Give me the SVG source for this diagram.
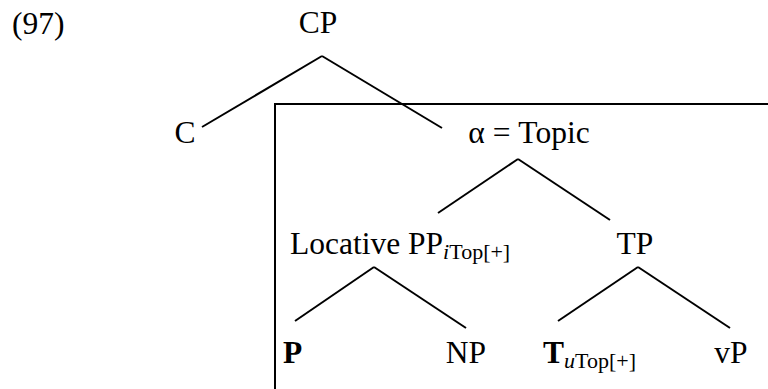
<svg xmlns="http://www.w3.org/2000/svg" width="768" height="389" viewBox="0 0 768 389">
<style>
text{font-family:"Liberation Serif","Times New Roman",serif;font-size:31.5px;fill:#000}
.sub{font-size:22px}
.b{font-weight:bold}
.i{font-style:italic}
line,path{stroke:#000;stroke-width:2;fill:none}
</style>
<rect width="768" height="389" fill="#fff"/>
<text x="12" y="34">(97)</text>
<g id="box"><path d="M775 104H275V395"/></g>
<g id="connectors">
<line x1="322" y1="56" x2="202" y2="127"/>
<line x1="322" y1="56" x2="442" y2="128"/>
<line x1="518" y1="159" x2="438" y2="213"/>
<line x1="518" y1="159" x2="610" y2="220"/>
<line x1="374" y1="267" x2="295" y2="321"/>
<line x1="374" y1="267" x2="466" y2="328"/>
<line x1="638" y1="267" x2="558" y2="321"/>
<line x1="638" y1="267" x2="730" y2="328"/>
</g>
<g id="CP"><text x="318" y="33" text-anchor="middle">CP</text></g>
<g id="C"><text x="185" y="143" text-anchor="middle">C</text></g>
<g id="alpha"><text x="529" y="143" text-anchor="middle">α = Topic</text></g>
<g id="PP"><text x="290" y="254">Locative PP<tspan class="sub" dy="5"><tspan class="i">i</tspan>Top[+]</tspan></text></g>
<g id="TP"><text x="635" y="254" text-anchor="middle">TP</text></g>
<g id="P"><text x="283" y="363" class="b">P</text></g>
<g id="NP"><text x="466" y="363" text-anchor="middle">NP</text></g>
<g id="T"><text x="543" y="363"><tspan class="b">T</tspan><tspan class="sub" dy="5"><tspan class="i">u</tspan>Top[+]</tspan></text></g>
<g id="vP"><text x="731" y="363" text-anchor="middle">vP</text></g>
</svg>
